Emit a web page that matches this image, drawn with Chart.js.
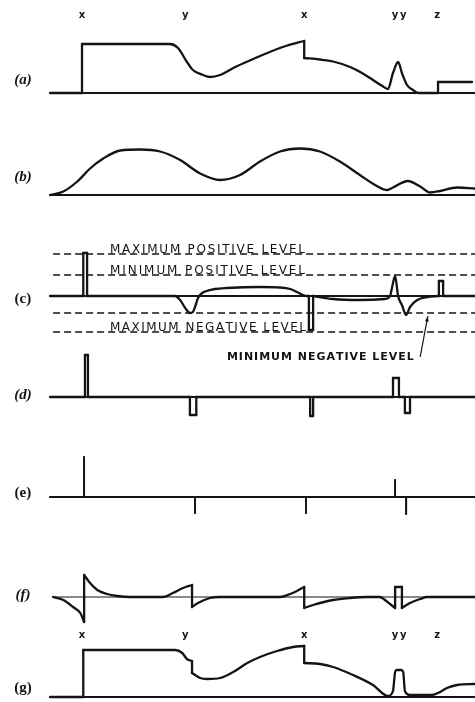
<!DOCTYPE html>
<html>
<head>
<meta charset="utf-8">
<script src="https://cdn.jsdelivr.net/npm/chart.js@4/dist/chart.umd.min.js"></script>
<style>
  html, body { margin: 0; padding: 0; background: #fff; }
  #wrap { width: 475px; height: 702px; position: relative; }
</style>
</head>
<body>
<div id="wrap"><canvas id="traces"></canvas></div>
<script>
// panel names and the event marks written above (a) and (g)
const panels = ["(a)", "(b)", "(c)", "(d)", "(e)", "(f)", "(g)"];
const eventNames = ["x", "y", "x", "y", "y", "z"];
const eventTimes = [7.5, 31.8, 59.8, 81.2, 83.1, 91.1];

// waveforms: time (0-100) and level; a repeated time is a vertical jump
const aTime = [0, 7.5, 7.5, 28.2, 30.1, 32.2, 33.6, 36.0, 37.6, 40.0, 43.1, 47.8, 51.1, 55.8, 59.8, 59.8, 63.5, 66.6, 70.6, 73.4, 76.0, 78.2, 79.5, 80.7, 81.9, 82.8, 84.0, 85.4, 86.6, 91.3, 91.3, 99.3];
const aLevel = [0, 0, 0.98, 0.98, 0.90, 0.62, 0.46, 0.36, 0.32, 0.36, 0.50, 0.68, 0.80, 0.95, 1.04, 0.70, 0.67, 0.63, 0.52, 0.40, 0.26, 0.14, 0.08, 0.40, 0.62, 0.40, 0.16, 0.06, 0, 0, 0.22, 0.22];

const bTime = [0, 3.1, 6.4, 9.4, 12.5, 16.5, 21.2, 25.9, 30.6, 35.3, 40.0, 44.7, 49.4, 54.1, 58.8, 63.5, 68.2, 72.9, 76.9, 79.3, 80.7, 84.2, 87.1, 89.4, 91.8, 95.8, 100];
const bLevel = [0, 0.07, 0.27, 0.53, 0.73, 0.89, 0.91, 0.87, 0.70, 0.43, 0.30, 0.40, 0.67, 0.87, 0.93, 0.87, 0.67, 0.40, 0.18, 0.10, 0.15, 0.28, 0.17, 0.05, 0.08, 0.15, 0.13];

const cTime = [0, 7.8, 7.8, 8.7, 8.7, 29.4, 30.6, 31.8, 32.9, 33.6, 34.1, 34.8, 35.8, 36.5, 38.8, 41.6, 49.4, 54.1, 56.5, 58.1, 59.5, 60.4, 60.9, 60.9, 61.9, 61.9, 66.6, 72.9, 78.8, 80.0, 80.5, 81.2, 81.9, 82.8, 83.8, 84.7, 86.4, 88.7, 91.5, 91.5, 92.5, 92.5, 100];
const cLevel = [0, 0, 0.86, 0.86, 0, 0, -0.08, -0.24, -0.34, -0.32, -0.22, -0.04, 0.06, 0.09, 0.14, 0.16, 0.18, 0.17, 0.14, 0.08, 0.02, 0, 0, -0.68, -0.68, 0, -0.06, -0.08, -0.06, 0, 0.18, 0.40, 0, -0.18, -0.38, -0.22, -0.08, -0.02, 0, 0.30, 0.30, 0, 0];

const dTime = [0, 8.2, 8.2, 8.9, 8.9, 32.9, 32.9, 34.4, 34.4, 61.2, 61.2, 61.9, 61.9, 80.7, 80.7, 82.1, 82.1, 83.5, 83.5, 84.7, 84.7, 100];
const dLevel = [0, 0, 0.84, 0.84, 0, 0, -0.36, -0.36, 0, 0, -0.38, -0.38, 0, 0, 0.38, 0.38, 0, 0, -0.32, -0.32, 0, 0];

const eTime = [0, 8.0, 8.0, 8.0, 34.1, 34.1, 34.1, 60.2, 60.2, 60.2, 81.2, 81.2, 81.2, 83.8, 83.8, 83.8, 100];
const eLevel = [0, 0, 0.80, 0, 0, -0.32, 0, 0, -0.32, 0, 0, 0.34, 0, 0, -0.34, 0, 0];

const fTime = [0.7, 3.1, 5.4, 7.1, 8.0, 8.0, 9.4, 11.1, 13.4, 15.8, 18.8, 26.6, 28.9, 31.3, 33.4, 33.4, 34.8, 37.6, 40.0, 54.1, 56.5, 58.1, 59.8, 59.8, 61.9, 66.6, 70.6, 74.6, 77.6, 78.8, 80.0, 81.2, 81.2, 82.8, 82.8, 84.7, 87.1, 88.7, 100];
const fLevel = [0, -0.06, -0.2, -0.32, -0.5, 0.44, 0.28, 0.14, 0.06, 0.02, 0, 0, 0.08, 0.18, 0.24, -0.2, -0.12, -0.02, 0, 0, 0.06, 0.12, 0.2, -0.22, -0.16, -0.06, -0.02, 0, 0, -0.06, -0.14, -0.22, 0.2, 0.2, -0.22, -0.12, -0.04, 0, 0];

const gTime = [0, 7.8, 7.8, 29.4, 31.1, 32.2, 33.4, 33.4, 35.3, 36.9, 40.0, 43.1, 46.4, 49.4, 53.4, 57.2, 59.8, 59.8, 63.5, 66.6, 71.3, 76.0, 79.5, 80.7, 81.2, 81.6, 82.6, 83.1, 83.5, 84.7, 89.9, 91.8, 93.4, 95.8, 100];
const gLevel = [0, 0, 0.94, 0.94, 0.88, 0.76, 0.72, 0.48, 0.38, 0.36, 0.38, 0.50, 0.68, 0.80, 0.92, 1.00, 1.02, 0.68, 0.66, 0.60, 0.44, 0.24, 0.02, 0.12, 0.50, 0.54, 0.54, 0.50, 0.12, 0.04, 0.04, 0.10, 0.18, 0.24, 0.26];

// threshold levels drawn dashed across (c)
const levelNames = ["MAXIMUM POSITIVE LEVEL", "MINIMUM POSITIVE LEVEL", "MINIMUM NEGATIVE LEVEL", "MAXIMUM NEGATIVE LEVEL"];
const levelValues = [0.84, 0.42, -0.34, -0.72];

// layout: where each panel's zero line sits on the shared y axis
const BASE = [12.18, 10.14, 8.12, 6.10, 4.10, 2.10, 0.10];
const LABEL_LIFT = [0.26, 0.36, -0.06, 0.04, 0.08, 0.04, 0.18];
const ITALIC = [true, true, false, true, false, true, false];
const INK = "#141414";

function line(points, width, smooth, dash) {
  return {
    data: points,
    borderColor: INK,
    borderWidth: width,
    borderDash: dash || [],
    borderJoinStyle: "round",
    borderCapStyle: dash ? "butt" : "round",
    pointRadius: 0,
    fill: false,
    cubicInterpolationMode: smooth ? "monotone" : "default",
    tension: 0,
  };
}

// split a waveform into smooth runs and straight vertical jumps
function pieces(times, levels, base, width) {
  const out = [];
  let run = [];
  const flush = () => {
    if (run.length > 1) out.push(line(run, width, true));
    run = [];
  };
  for (let i = 0; i < times.length; i++) {
    run.push({ x: times[i], y: base + levels[i] });
    if (i + 1 < times.length && times[i + 1] === times[i]) {
      flush();
      out.push(line([{ x: times[i], y: base + levels[i] }, { x: times[i + 1], y: base + levels[i + 1] }], width, false));
    }
  }
  flush();
  return out;
}

const datasets = [];
panels.forEach((p, i) => {
  const start = i === 5 ? 0.7 : 0;
  datasets.push(line([{ x: start, y: BASE[i] }, { x: 100, y: BASE[i] }], i === 5 ? 1 : 2, false));
});
levelValues.forEach((v) => {
  datasets.push(line([{ x: 0.7, y: BASE[2] + v }, { x: 100, y: BASE[2] + v }], 1.3, false, [7, 4]));
});
[[aTime, aLevel], [bTime, bLevel], [cTime, cLevel], [dTime, dLevel], [eTime, eLevel], [fTime, fLevel], [gTime, gLevel]]
  .forEach(([t, v], i) => datasets.push(...pieces(t, v, BASE[i], i === 4 ? 1.8 : 2.3)));

function spaced(ctx, text, x, y, width) {
  const natural = ctx.measureText(text).width;
  const gap = (width - natural) / (text.length - 1);
  let cx = x;
  for (const ch of text) {
    ctx.fillText(ch, cx, y);
    cx += ctx.measureText(ch).width + gap;
  }
}

const figureText = {
  id: "figureText",
  afterDatasetsDraw(chart) {
    const { ctx, scales: { x, y } } = chart;
    ctx.save();
    ctx.fillStyle = INK;
    ctx.strokeStyle = INK;

    // panel labels
    ctx.textAlign = "center";
    ctx.textBaseline = "middle";
    panels.forEach((p, i) => {
      ctx.font = (ITALIC[i] ? "italic " : "") + 'bold 15px "Liberation Serif"';
      ctx.fillText(p, x.getPixelForValue(-6.4), y.getPixelForValue(BASE[i] + LABEL_LIFT[i]));
    });

    // event letters above (a) and (g)
    ctx.font = 'bold 10px "DejaVu Sans"';
    eventNames.forEach((n, i) => {
      const px = x.getPixelForValue(eventTimes[i]);
      ctx.fillText(n, px, y.getPixelForValue(BASE[0] + 1.56));
      ctx.fillText(n, px, y.getPixelForValue(BASE[6] + 1.24));
    });

    // level captions
    ctx.textAlign = "left";
    ctx.textBaseline = "alphabetic";
    ctx.font = '12px "DejaVu Sans"';
    [0, 1, 3].forEach((k) => {
      const left = x.getPixelForValue(14.1);
      const right = x.getPixelForValue(60.0);
      spaced(ctx, levelNames[k], left, y.getPixelForValue(BASE[2] + levelValues[k]) - 1, right - left);
    });
    ctx.textBaseline = "middle";
    ctx.font = 'bold 11px "DejaVu Sans"';
    const l2 = x.getPixelForValue(41.6);
    const r2 = x.getPixelForValue(85.4);
    spaced(ctx, levelNames[2], l2, y.getPixelForValue(BASE[2] - 1.22), r2 - l2);

    // pointer from the caption up to its dashed line
    const x0 = x.getPixelForValue(87.1), y0 = y.getPixelForValue(BASE[2] - 1.22);
    const x1 = x.getPixelForValue(88.9), y1 = y.getPixelForValue(BASE[2] + levelValues[2] - 0.06);
    ctx.lineWidth = 1.2;
    ctx.beginPath();
    ctx.moveTo(x0, y0);
    ctx.lineTo(x1, y1);
    ctx.stroke();
    const ang = Math.atan2(y1 - y0, x1 - x0);
    ctx.beginPath();
    ctx.moveTo(x1, y1);
    ctx.lineTo(x1 - 6 * Math.cos(ang - 0.3), y1 - 6 * Math.sin(ang - 0.3));
    ctx.lineTo(x1 - 6 * Math.cos(ang + 0.3), y1 - 6 * Math.sin(ang + 0.3));
    ctx.closePath();
    ctx.fill();
    ctx.restore();
  },
};

new Chart(document.getElementById("traces"), {
  type: "line",
  data: { datasets: datasets },
  options: {
    responsive: true,
    maintainAspectRatio: false,
    animation: false,
    events: [],
    layout: { padding: 0 },
    plugins: { legend: { display: false }, tooltip: { enabled: false } },
    scales: {
      x: { type: "linear", min: -11.8, max: 100, display: false },
      y: { type: "linear", min: 0, max: 14.04, display: false },
    },
  },
  plugins: [figureText],
});
</script>
</body>
</html>
